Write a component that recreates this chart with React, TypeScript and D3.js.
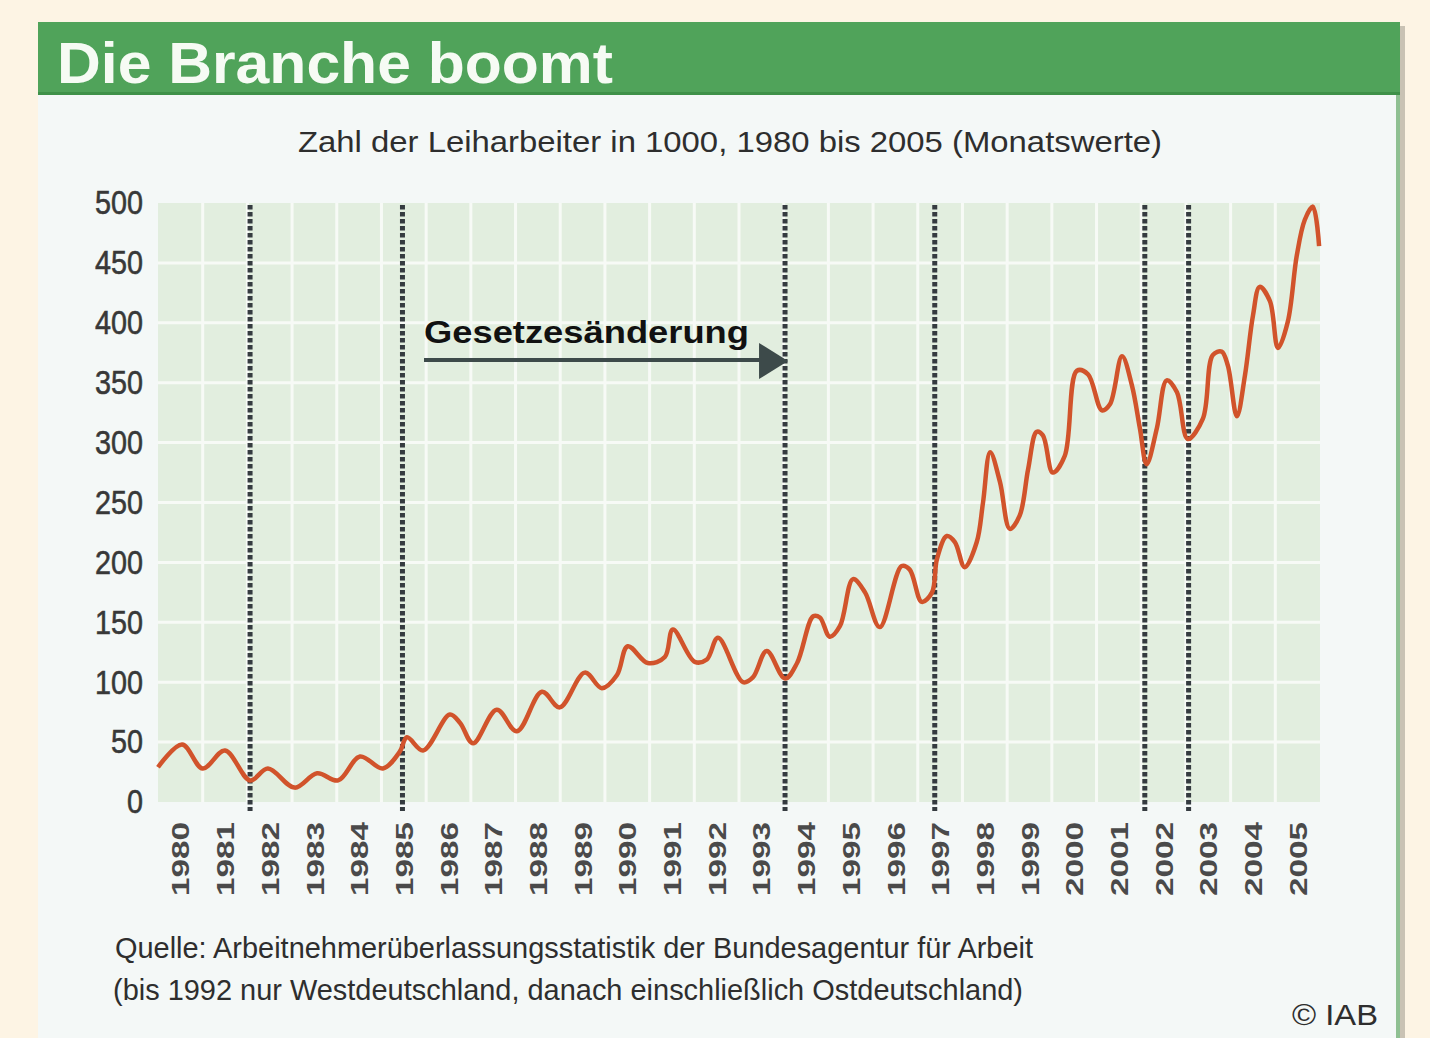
import React, { useEffect, useRef } from "react";
import * as d3 from "d3";

// tick labels
const yearLabels = [
  "1980", "1981", "1982", "1983", "1984", "1985", "1986", "1987", "1988",
  "1989", "1990", "1991", "1992", "1993", "1994", "1995", "1996", "1997",
  "1998", "1999", "2000", "2001", "2002", "2003", "2004", "2005",
];
const yTicks = [0, 50, 100, 150, 200, 250, 300, 350, 400, 450, 500];

// dates of the law changes (dashed lines), in decimal years
const lawChanges = [1982.06, 1985.47, 1994.03, 1997.38, 2002.08, 2003.06];

// position in decimal years, and workers in 1000
const monthPos = [
  1980.0, 1980.54, 1981.0, 1981.5, 1982.06, 1982.46, 1983.06, 1983.56, 1984.03,
  1984.52, 1985.03, 1985.41, 1985.57, 1985.93, 1986.53, 1986.76, 1987.05,
  1987.58, 1988.03, 1988.59, 1988.99, 1989.55, 1989.93, 1990.27, 1990.51,
  1990.96, 1991.34, 1991.52, 1992.01, 1992.28, 1992.53, 1993.09, 1993.31,
  1993.62, 1994.03, 1994.3, 1994.66, 1994.81, 1995.03, 1995.26, 1995.55,
  1995.82, 1996.15, 1996.64, 1996.82, 1997.09, 1997.32, 1997.43, 1997.65,
  1997.83, 1998.05, 1998.32, 1998.46, 1998.62, 1998.84, 1999.06, 1999.28,
  1999.47, 1999.66, 1999.8, 2000.02, 2000.29, 2000.56, 2000.81, 2001.12,
  2001.3, 2001.57, 2001.79, 2001.97, 2002.12, 2002.35, 2002.57, 2002.8,
  2003.04, 2003.38, 2003.6, 2003.8, 2003.94, 2004.14, 2004.32, 2004.5,
  2004.65, 2004.88, 2005.06, 2005.28, 2005.48, 2005.66, 2005.84, 2005.98,
];
const workers = [
  29, 48, 28, 43, 18, 28, 12, 24, 18,
  38, 28, 42, 54, 43, 73, 66, 49,
  77, 59, 92, 79, 108, 95, 106, 130,
  116, 121, 144, 117, 119, 137, 100, 104,
  126, 103, 116, 155, 154, 138, 147, 186,
  175, 146, 197, 194, 167, 175, 203, 222,
  217, 196, 217, 250, 292, 267, 228, 239,
  278, 309, 306, 275, 289, 360, 357, 327,
  332, 372, 348, 312, 282, 312, 352, 342,
  303, 320, 373, 376, 364, 322, 356, 406,
  430, 418, 379, 401, 456, 486, 497, 464,
];

const FONT = "'Liberation Sans', Arial, Helvetica, sans-serif";

export default function App() {
  const ref = useRef<SVGSVGElement>(null);

  useEffect(() => {
    const svg = d3.select(ref.current);
    svg.selectAll("*").remove();

    const W = 1430;
    const H = 1038;
    const plot = { left: 158, right: 1320, top: 203, bottom: 802 };

    // page + panel
    svg.append("rect").attr("width", W).attr("height", H).attr("fill", "#fdf4e4");
    svg.append("rect").attr("x", 1400).attr("y", 26).attr("width", 5).attr("height", H).attr("fill", "#c9c2b4");
    svg.append("rect").attr("x", 38).attr("y", 22).attr("width", 1362).attr("height", H).attr("fill", "#f4f8f7");
    svg.append("rect").attr("x", 1396).attr("y", 22).attr("width", 4).attr("height", H).attr("fill", "#8fc092");
    svg.append("rect").attr("x", 38).attr("y", 22).attr("width", 1362).attr("height", 73).attr("fill", "#50a35a");
    svg.append("rect").attr("x", 38).attr("y", 92).attr("width", 1362).attr("height", 3).attr("fill", "#3f9149");

    svg.append("text")
      .attr("x", 57).attr("y", 83)
      .attr("font-family", FONT).attr("font-weight", "bold").attr("font-size", 58)
      .attr("fill", "#f6fbf4")
      .attr("textLength", 556).attr("lengthAdjust", "spacingAndGlyphs")
      .text("Die Branche boomt");

    svg.append("text")
      .attr("x", 298).attr("y", 152)
      .attr("font-family", FONT).attr("font-size", 29)
      .attr("fill", "#2e2e2e")
      .attr("textLength", 864).attr("lengthAdjust", "spacingAndGlyphs")
      .text("Zahl der Leiharbeiter in 1000, 1980 bis 2005 (Monatswerte)");

    const x = d3.scaleLinear().domain([1980, 2006]).range([plot.left, plot.right]);
    const y = d3.scaleLinear().domain([0, 500]).range([plot.bottom, plot.top]);

    // plot background and white grid
    svg.append("rect")
      .attr("x", plot.left).attr("y", plot.top)
      .attr("width", plot.right - plot.left).attr("height", plot.bottom - plot.top)
      .attr("fill", "#e2eedf");

    const grid = svg.append("g").attr("stroke", "#f7faf6").attr("stroke-width", 3);
    grid.selectAll("line.h")
      .data(yTicks.filter((d) => d > 0 && d < 500))
      .enter().append("line")
      .attr("x1", plot.left).attr("x2", plot.right)
      .attr("y1", (d) => y(d)).attr("y2", (d) => y(d));
    grid.selectAll("line.v")
      .data(yearLabels.slice(1).map((d) => +d))
      .enter().append("line")
      .attr("x1", (d) => x(d)).attr("x2", (d) => x(d))
      .attr("y1", plot.top).attr("y2", plot.bottom);

    // y axis labels
    const yAxis = svg.append("g")
      .attr("transform", `translate(${plot.left},0)`)
      .call(d3.axisLeft(y).tickValues(yTicks).tickSize(0).tickPadding(15));
    yAxis.select(".domain").remove();
    yAxis.selectAll("text")
      .attr("font-family", FONT).attr("font-size", 34).attr("fill", "#383838")
      .attr("stroke", "#383838").attr("stroke-width", 0.6)
      .attr("textLength", (d: any) => String(d).length * 16)
      .attr("lengthAdjust", "spacingAndGlyphs");

    // x axis labels, rotated
    const xAxis = svg.append("g")
      .attr("transform", `translate(0,${plot.bottom})`)
      .call(
        d3.axisBottom(x)
          .tickValues(yearLabels.map((d) => +d + 0.5))
          .tickFormat((d: any) => String(Math.floor(d)))
          .tickSize(0)
      );
    xAxis.select(".domain").remove();
    xAxis.selectAll("text")
      .attr("transform", "rotate(-90)")
      .attr("x", -20).attr("y", 0).attr("dy", "0.36em")
      .attr("text-anchor", "end")
      .attr("font-family", FONT).attr("font-weight", "bold").attr("font-size", 24)
      .attr("fill", "#4a4a4a")
      .attr("textLength", 74).attr("lengthAdjust", "spacingAndGlyphs");

    // dashed law change lines
    svg.append("g").selectAll("line")
      .data(lawChanges)
      .enter().append("line")
      .attr("x1", (d) => x(d)).attr("x2", (d) => x(d))
      .attr("y1", plot.top + 2).attr("y2", plot.bottom + 9)
      .attr("stroke", "#353b40").attr("stroke-width", 5)
      .attr("stroke-dasharray", "4.5,2.5");

    // annotation
    svg.append("text")
      .attr("x", 424).attr("y", 343)
      .attr("font-family", FONT).attr("font-weight", "bold").attr("font-size", 31)
      .attr("fill", "#111")
      .attr("textLength", 325).attr("lengthAdjust", "spacingAndGlyphs")
      .text("Gesetzesänderung");
    const arrowEnd = x(lawChanges[2]);
    svg.append("line")
      .attr("x1", 424).attr("x2", arrowEnd - 20)
      .attr("y1", 360).attr("y2", 360)
      .attr("stroke", "#3d4a4a").attr("stroke-width", 4);
    svg.append("path")
      .attr("d", `M${arrowEnd - 26},343 L${arrowEnd + 3},361 L${arrowEnd - 26},379 Z`)
      .attr("fill", "#3d4a4a");

    // the series
    const points: [number, number][] = monthPos.map((t, i) => [t, workers[i]]);
    const line = d3.line<[number, number]>()
      .x((d) => x(d[0]))
      .y((d) => y(d[1]))
      .curve(d3.curveCatmullRom.alpha(0.5));
    svg.append("path")
      .datum(points)
      .attr("d", line)
      .attr("fill", "none")
      .attr("stroke", "#d1532b")
      .attr("stroke-width", 4.5)
      .attr("stroke-linejoin", "round");

    // source
    svg.append("text")
      .attr("x", 115).attr("y", 958)
      .attr("font-family", FONT).attr("font-size", 29).attr("fill", "#2e2e2e")
      .attr("textLength", 918).attr("lengthAdjust", "spacingAndGlyphs")
      .text("Quelle: Arbeitnehmerüberlassungsstatistik der Bundesagentur für Arbeit");
    svg.append("text")
      .attr("x", 113).attr("y", 1000)
      .attr("font-family", FONT).attr("font-size", 29).attr("fill", "#2e2e2e")
      .attr("textLength", 910).attr("lengthAdjust", "spacingAndGlyphs")
      .text("(bis 1992 nur Westdeutschland, danach einschließlich Ostdeutschland)");
    svg.append("text")
      .attr("x", 1292).attr("y", 1025)
      .attr("font-family", FONT).attr("font-size", 29).attr("fill", "#2e2e2e")
      .attr("textLength", 86).attr("lengthAdjust", "spacingAndGlyphs")
      .text("© IAB");
  }, []);

  return (
    <div style={{ position: "absolute", left: 0, top: 0 }}>
      <svg ref={ref} width={1430} height={1038} style={{ display: "block" }} />
    </div>
  );
}
